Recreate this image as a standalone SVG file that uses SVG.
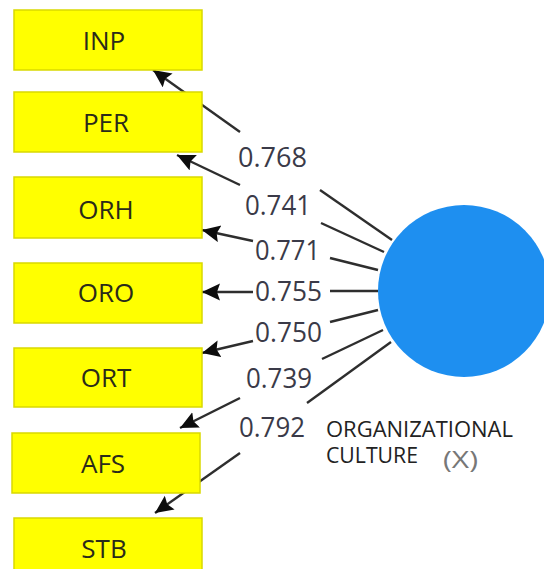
<svg xmlns="http://www.w3.org/2000/svg" width="544" height="569" viewBox="0 0 544 569">
<style>
.box{fill:#ffff00;stroke:#d9d900;stroke-width:1.5}
.bt{font-family:"Open Sans","Noto Sans",sans-serif;font-size:26px;fill:#2a2a1a;text-anchor:middle}
.ln{fill:none;stroke:#2e2e2e;stroke-width:2.4}
.lb{font-family:"Open Sans","Noto Sans",sans-serif;font-size:27px;fill:#3a3a48}
.ct{font-family:"Open Sans","Noto Sans",sans-serif;font-size:21px;fill:#222}
</style>
<defs>
<marker id="ah" markerUnits="userSpaceOnUse" markerWidth="22" markerHeight="20" refX="18" refY="8.5" orient="auto">
<path d="M0,0 L18,8.5 L0,17 L3,8.5 z" fill="#0d0d0d"/>
</marker>
</defs>
<rect width="544" height="569" fill="#fff"/>
<g id="connectors">
<path class="ln" d="M392,240 L320,190"/><path class="ln" d="M240,132 L153,70" marker-end="url(#ah)"/>
<path class="ln" d="M384,252 L321,223"/><path class="ln" d="M240,185 L177,155" marker-end="url(#ah)"/>
<path class="ln" d="M378,270 L330,258"/><path class="ln" d="M253,241 L202,230" marker-end="url(#ah)"/>
<path class="ln" d="M378,291 L330,291"/><path class="ln" d="M253,292 L202,292" marker-end="url(#ah)"/>
<path class="ln" d="M378,310 L330,322"/><path class="ln" d="M253,341 L202,353" marker-end="url(#ah)"/>
<path class="ln" d="M383,330 L322,359"/><path class="ln" d="M240,398 L180,428" marker-end="url(#ah)"/>
<path class="ln" d="M391,342 L307,403"/><path class="ln" d="M240,453 L155,513" marker-end="url(#ah)"/>
<text class="lb" x="238" y="167" textLength="69" lengthAdjust="spacingAndGlyphs">0.768</text>
<text class="lb" x="245" y="215" textLength="66" lengthAdjust="spacingAndGlyphs">0.741</text>
<text class="lb" x="255" y="260" textLength="65" lengthAdjust="spacingAndGlyphs">0.771</text>
<text class="lb" x="255" y="301" textLength="67" lengthAdjust="spacingAndGlyphs">0.755</text>
<text class="lb" x="255" y="342" textLength="67" lengthAdjust="spacingAndGlyphs">0.750</text>
<text class="lb" x="246" y="388" textLength="66" lengthAdjust="spacingAndGlyphs">0.739</text>
<text class="lb" x="239" y="437" textLength="66" lengthAdjust="spacingAndGlyphs">0.792</text>
</g>
<g id="INP"><rect class="box" x="14" y="10" width="188" height="60"/><text class="bt" x="104" y="50">INP</text></g>
<g id="PER"><rect class="box" x="14" y="92" width="188" height="60"/><text class="bt" x="106" y="132">PER</text></g>
<g id="ORH"><rect class="box" x="14" y="177" width="188" height="61"/><text class="bt" x="106" y="219">ORH</text></g>
<g id="ORO"><rect class="box" x="14" y="263" width="188" height="60"/><text class="bt" x="106" y="302">ORO</text></g>
<g id="ORT"><rect class="box" x="14" y="348" width="188" height="59"/><text class="bt" x="106" y="387">ORT</text></g>
<g id="AFS"><rect class="box" x="12" y="433" width="188" height="60"/><text class="bt" x="103" y="473">AFS</text></g>
<g id="STB"><rect class="box" x="14" y="518" width="188" height="60"/><text class="bt" x="104" y="558">STB</text></g>
<g id="X">
<circle cx="464" cy="291" r="86" fill="#1e8ff0"/>
<text class="ct" x="326" y="437" textLength="187" lengthAdjust="spacingAndGlyphs">ORGANIZATIONAL</text>
<text class="ct" x="326" y="463" textLength="92" lengthAdjust="spacingAndGlyphs">CULTURE</text>
<text x="443" y="468" font-family="Open Sans, Noto Sans, sans-serif" font-size="23" fill="#777" textLength="35" lengthAdjust="spacingAndGlyphs">(X)</text>
</g>
</svg>
